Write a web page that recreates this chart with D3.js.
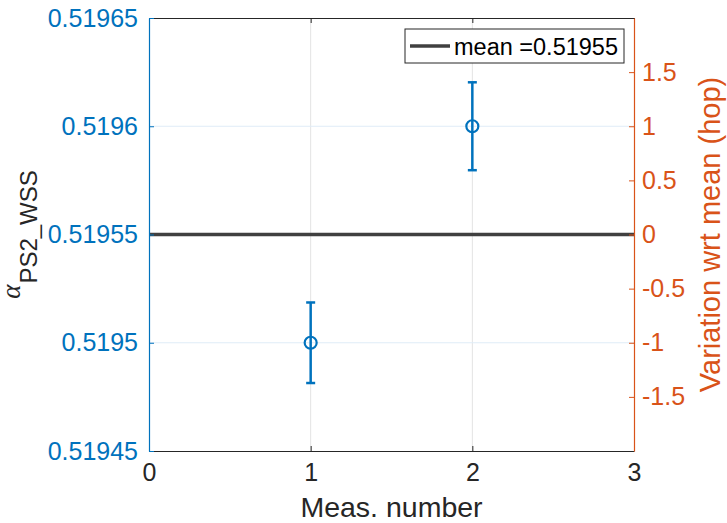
<!DOCTYPE html>
<html>
<head>
<meta charset="utf-8">
<script src="https://d3js.org/d3.v7.min.js"></script>
<style>
  body { margin: 0; background: #fff; }
  text { font-family: "Liberation Sans", Arial, sans-serif; }
</style>
</head>
<body>
<script>
// data
const measNumber = [1, 2];
const alphaValue = [0.51950, 0.51960];
const alphaError = [0.0000186, 0.0000203];
const meanValue = 0.51955;
const hop = 0.00005;
const leftTicks = [0.51945, 0.5195, 0.51955, 0.5196, 0.51965];
const leftTickLabels = ['0.51945', '0.5195', '0.51955', '0.5196', '0.51965'];
const rightTicks = [-1.5, -1, -0.5, 0, 0.5, 1, 1.5];
const rightTickLabels = ['-1.5', '-1', '-0.5', '0', '0.5', '1', '1.5'];
const xTicks = [0, 1, 2, 3];

const W = 727, H = 523;
const m = {left: 149, right: 634, top: 18, bottom: 451};
const blue = '#0072BD', orange = '#D95319', dark = '#262626';

const svg = d3.select('body').append('svg')
  .attr('width', W).attr('height', H);

const x = d3.scaleLinear().domain([0, 3]).range([m.left, m.right]);
const y = d3.scaleLinear().domain([0.51945, 0.51965]).range([m.bottom, m.top]);
const yR = d3.scaleLinear()
  .domain([(0.51945 - meanValue) / hop, (0.51965 - meanValue) / hop])
  .range([m.bottom, m.top]);

// grid
svg.append('g').selectAll('line').data(xTicks.slice(1, 3)).enter().append('line')
  .attr('x1', d => x(d)).attr('x2', d => x(d))
  .attr('y1', m.top).attr('y2', m.bottom)
  .attr('stroke', '#e3e3e3').attr('stroke-width', 1);
svg.append('g').selectAll('line').data(leftTicks.slice(1, 4)).enter().append('line')
  .attr('x1', m.left).attr('x2', m.right)
  .attr('y1', d => y(d)).attr('y2', d => y(d))
  .attr('stroke', '#dfecf7').attr('stroke-width', 1);

// mean line
svg.append('line')
  .attr('x1', m.left).attr('x2', m.right)
  .attr('y1', y(meanValue)).attr('y2', y(meanValue))
  .attr('stroke', '#404040').attr('stroke-width', 3.5);

// error bars
const pts = svg.append('g').selectAll('g').data(measNumber).enter().append('g');
pts.append('line')
  .attr('x1', d => x(d)).attr('x2', d => x(d))
  .attr('y1', (d, i) => y(alphaValue[i] - alphaError[i]))
  .attr('y2', (d, i) => y(alphaValue[i] + alphaError[i]))
  .attr('stroke', blue).attr('stroke-width', 2.5);
[-1, 1].forEach(s => {
  pts.append('line')
    .attr('x1', d => x(d) - 4.5).attr('x2', d => x(d) + 4.5)
    .attr('y1', (d, i) => y(alphaValue[i] + s * alphaError[i]))
    .attr('y2', (d, i) => y(alphaValue[i] + s * alphaError[i]))
    .attr('stroke', blue).attr('stroke-width', 2.5);
});
pts.append('circle')
  .attr('cx', d => x(d)).attr('cy', (d, i) => y(alphaValue[i]))
  .attr('r', 6).attr('fill', 'none')
  .attr('stroke', blue).attr('stroke-width', 2.2);

// axes
const xAxisB = d3.axisBottom(x).tickValues(xTicks).tickSizeInner(-5).tickSizeOuter(0)
  .tickPadding(12).tickFormat(d3.format('d'));
const gx = svg.append('g').attr('transform', `translate(0,${m.bottom})`).call(xAxisB);
gx.select('.domain').attr('stroke', dark).attr('stroke-width', 1.2);
gx.selectAll('line').attr('stroke', dark);
gx.selectAll('text').attr('fill', dark).style('font-size', '25px');

const gxt = svg.append('g').attr('transform', `translate(0,${m.top})`)
  .call(d3.axisTop(x).tickValues(xTicks).tickSizeInner(-5).tickSizeOuter(0).tickFormat(''));
gxt.select('.domain').attr('stroke', dark).attr('stroke-width', 1.2);
gxt.selectAll('line').attr('stroke', dark);

const gy = svg.append('g').attr('transform', `translate(${m.left},0)`)
  .call(d3.axisLeft(y).tickValues(leftTicks).tickSizeInner(-5).tickSizeOuter(0).tickPadding(11)
    .tickFormat((d, i) => leftTickLabels[i]));
gy.select('.domain').attr('stroke', blue).attr('stroke-width', 1.2);
gy.selectAll('line').attr('stroke', blue);
gy.selectAll('text').attr('fill', blue).style('font-size', '25px');

const gyr = svg.append('g').attr('transform', `translate(${m.right},0)`)
  .call(d3.axisRight(yR).tickValues(rightTicks).tickSizeInner(-5).tickSizeOuter(0).tickPadding(8)
    .tickFormat((d, i) => rightTickLabels[i]));
gyr.select('.domain').attr('stroke', orange).attr('stroke-width', 1.2);
gyr.selectAll('line').attr('stroke', orange);
gyr.selectAll('text').attr('fill', orange).style('font-size', '25px');

// labels
svg.append('text')
  .attr('x', (m.left + m.right) / 2).attr('y', 517)
  .attr('text-anchor', 'middle').attr('fill', dark)
  .style('font-size', '28.5px').text('Meas. number');

const yl = svg.append('text')
  .attr('transform', `translate(20,${y(meanValue)}) rotate(-90)`)
  .attr('text-anchor', 'middle').attr('fill', dark);
yl.append('tspan').style('font-family', '"Liberation Serif", "Times New Roman", serif')
  .style('font-style', 'italic').style('font-size', '27px').text('α');
yl.append('tspan').attr('dy', 17).attr('dx', 1).style('font-size', '24px').text('PS2_WSS');

svg.append('text')
  .attr('transform', `translate(720,${y(meanValue)}) rotate(-90)`)
  .attr('text-anchor', 'middle').attr('fill', orange)
  .style('font-size', '29px').text('Variation wrt mean (hop)');

// legend
const lg = svg.append('g');
lg.append('rect').attr('x', 405).attr('y', 29).attr('width', 219).attr('height', 34)
  .attr('fill', 'white').attr('stroke', dark).attr('stroke-width', 1);
lg.append('line').attr('x1', 410).attr('x2', 450).attr('y1', 46).attr('y2', 46)
  .attr('stroke', '#404040').attr('stroke-width', 3.5);
lg.append('text').attr('x', 454).attr('y', 55).attr('fill', 'black')
  .style('font-size', '23.5px').text('mean =' + meanValue);
</script>
</body>
</html>
